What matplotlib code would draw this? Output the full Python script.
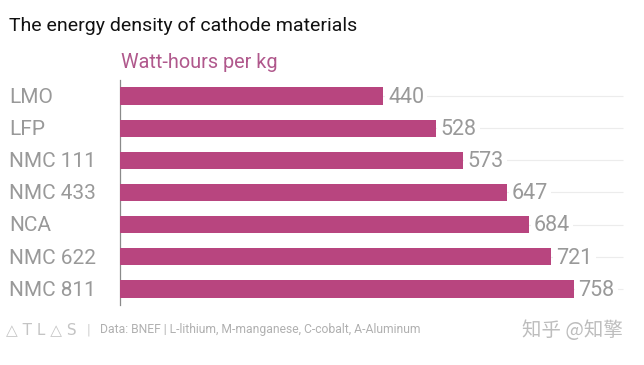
import matplotlib
matplotlib.use("Agg")
import matplotlib.pyplot as plt
import matplotlib.transforms as mtransforms

categories = ["LMO", "LFP", "NMC 111", "NMC 433", "NCA", "NMC 622", "NMC 811"]
values = [440, 528, 573, 647, 684, 721, 758]

title = "The energy density of cathode materials"
subtitle = "Watt-hours per kg"
source = "Data: BNEF | L-lithium, M-manganese, C-cobalt, A-Aluminum"

BAR = "#b8457f"
GRAY = "#999999"

plt.rcParams["font.family"] = ["Roboto", "DejaVu Sans"]

fig = plt.figure(figsize=(6.44, 3.65), dpi=100)
fig.patch.set_facecolor("white")
ax = fig.add_axes([120/644, 1-305/365, 0.99-120/644, 225/365])
ax.patch.set_alpha(0)

ypos = list(range(len(categories)))
ax.barh(ypos, values, height=0.54, color=BAR, zorder=3)
ax.set_ylim(len(categories)-0.5, -0.5)
ax.set_xlim(0, 865)

for s in ["top", "right", "bottom"]:
    ax.spines[s].set_visible(False)
ax.spines["left"].set_color("#8a8a8a")
ax.spines["left"].set_linewidth(0.9)
ax.set_xticks([])
ax.set_yticks([])

trans = mtransforms.blended_transform_factory(fig.transFigure, ax.transData)
ax.hlines(ypos, 0.03, 623/644, transform=trans, color="#ececec", linewidth=0.8, zorder=1)

for y, v in zip(ypos, values):
    ax.text(v + 8, y + 0.04, f"{v}", va="center", ha="left", fontsize=15.5, color=GRAY, zorder=4,
            bbox=dict(boxstyle="square,pad=0.15", fc="white", ec="none"))

for y, c in zip(ypos, categories):
    ax.text(9/644, y + 0.04, c, transform=trans, va="center", ha="left", fontsize=15, color=GRAY,
            zorder=4, bbox=dict(boxstyle="square,pad=0.2", fc="white", ec="none"))

fig.text(9/644, 1-26/365, title, fontsize=14, color="#111111", va="center", ha="left")
fig.text(121/644, 1-63/365, subtitle, fontsize=14.3, color="#b0588c", va="center", ha="left")

fig.text(6/644, 1-330/365, "△ T L △ S", fontsize=11, color="#c4c4c4", va="center", ha="left",
         family=["DejaVu Sans"])
fig.text(87/644, 1-330/365, "|", fontsize=11, color="#d4d4d4", va="center", ha="left")
fig.text(100/644, 1-330/365, source, fontsize=8.7, color="#b0b0b0", va="center", ha="left")
fig.text(522/644, 1-331/365, "知乎 @知擎", fontsize=14, color="#bdbdbd", va="center", ha="left",
         family=["Noto Sans CJK SC", "DejaVu Sans"])

fig.savefig("out.png", dpi=100, facecolor="white")
